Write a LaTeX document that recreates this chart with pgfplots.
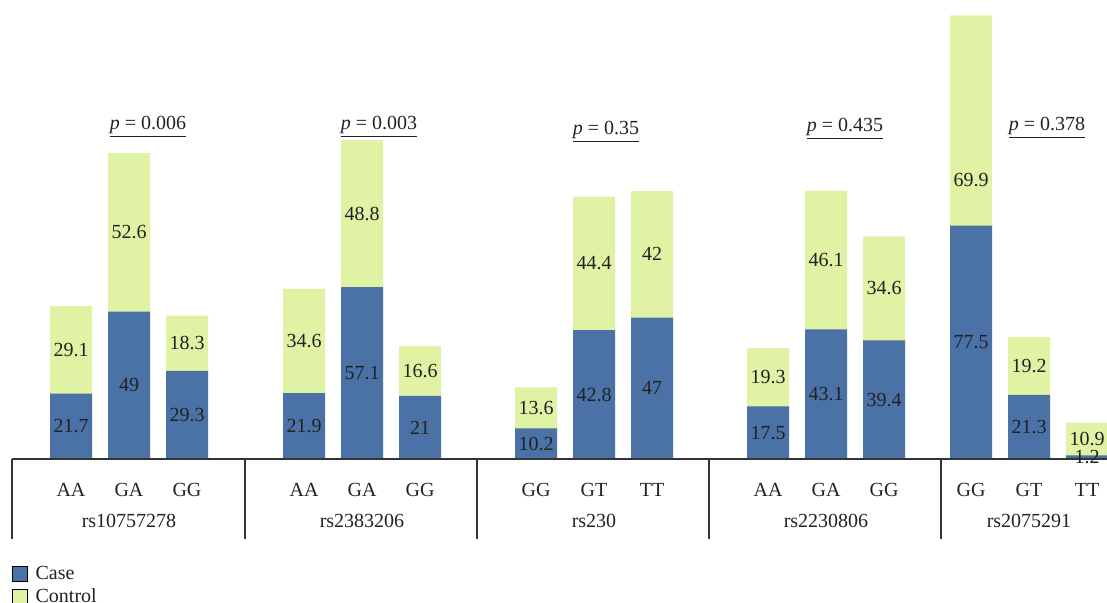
\documentclass[border=0pt]{standalone}
\usepackage{pgfplots}
\pgfplotsset{compat=1.18}
\usepackage{pgfplotstable}
\usepackage{fontspec}
\setmainfont{Liberation Serif}
\definecolor{casec}{HTML}{4A72A6}
\definecolor{ctrlc}{HTML}{E0F2A4}
\definecolor{txt}{HTML}{222222}
\definecolor{ln}{HTML}{333333}
% x: bar centre; cl: where the control value is written
\pgfplotstableread{
x case control cl
71 21.7 29.1 36.25
129 49 52.6 75.3
187 29.3 18.3 38.45
304 21.9 34.6 39.2
362 57.1 48.8 81.5
420 21 16.6 29.3
536 10.2 13.6 17
594 42.8 44.4 65
652 47 42 68
768 17.5 19.3 27.15
826 43.1 46.1 66.15
884 39.4 34.6 56.7
971 77.5 69.9 92.7
1029 21.3 19.2 30.9
1087 1.2 10.9 6.65
}\data
\begin{document}
\begin{tikzpicture}
\begin{axis}[
  scale only axis,
  width=553.5pt, height=301.5pt,
  xmin=0, xmax=1107, ymin=-47.84, ymax=152.5,
  axis y line=none,
  axis x line=middle,
  x axis line style={draw=none},
  major tick length=0pt,
  xtick={71,129,187,304,362,420,536,594,652,768,826,884,971,1029,1087},
  xticklabels={AA,GA,GG,AA,GA,GG,GG,GT,TT,AA,GA,GG,GG,GT,TT},
  xticklabel style={anchor=center, yshift=-15.5pt, font=\fontsize{10}{12}\selectfont, text=txt},
  extra x ticks={129,362,594,826,1029},
  extra x tick labels={rs10757278,rs2383206,rs230,rs2230806,rs2075291},
  extra x tick style={xticklabel style={yshift=-15.5pt}, major tick length=0pt},
  ytick=\empty,
  /pgf/number format/assume math mode=true,
  nodes near coords style={font=\fontsize{10}{12}\selectfont, text=txt, anchor=center},
  legend image code/.code={\fill[#1] (0pt,-3.7pt) rectangle (7.4pt,3.7pt);},
  legend style={at={(axis cs:12,-35.3)}, anchor=north west, draw=none, fill=none,
    inner sep=0pt, outer sep=0pt, row sep=2.5pt, font=\fontsize{10}{12}\selectfont,
    nodes={text=txt, inner xsep=4pt, inner ysep=0pt, text height=7pt, text depth=2pt}},
  legend cell align=left,
]
\addlegendimage{fill=casec}
\addlegendentry{Case}
\addlegendimage{fill=ctrlc}
\addlegendentry{Control}
\addplot[ybar, bar width=42, bar shift=0pt, fill=ctrlc, draw=none, forget plot]
  table[x=x, y expr=\thisrow{case}+\thisrow{control}] {\data};
\addplot[ybar, bar width=42, bar shift=0pt, fill=casec, draw=none, forget plot]
  table[x=x, y=case] {\data};
\addplot[draw=none, nodes near coords, point meta=explicit, forget plot]
  table[x=x, y expr=\thisrow{case}/2, meta=case] {\data};
\addplot[draw=none, nodes near coords, point meta=explicit, forget plot]
  table[x=x, y=cl, meta=control] {\data};
\draw[ln, line width=0.75pt] (axis cs:12,0) -- (axis cs:1107,0);
\draw[ln, line width=0.75pt] (axis cs:12,0) -- (axis cs:12,-26.6);
\draw[ln, line width=0.75pt] (axis cs:245,0) -- (axis cs:245,-26.6);
\draw[ln, line width=0.75pt] (axis cs:477,0) -- (axis cs:477,-26.6);
\draw[ln, line width=0.75pt] (axis cs:709,0) -- (axis cs:709,-26.6);
\draw[ln, line width=0.75pt] (axis cs:941,0) -- (axis cs:941,-26.6);
\node[font=\fontsize{10}{12}\selectfont, text=txt] at (axis cs:148,110.3) {\underline{\textit{p} = 0.006}};
\node[font=\fontsize{10}{12}\selectfont, text=txt] at (axis cs:379,110.3) {\underline{\textit{p} = 0.003}};
\node[font=\fontsize{10}{12}\selectfont, text=txt] at (axis cs:606,108.6) {\underline{\textit{p} = 0.35}};
\node[font=\fontsize{10}{12}\selectfont, text=txt] at (axis cs:845,109.6) {\underline{\textit{p} = 0.435}};
\node[font=\fontsize{10}{12}\selectfont, text=txt] at (axis cs:1047,110.0) {\underline{\textit{p} = 0.378}};
\end{axis}
\pgfresetboundingbox
\useasboundingbox (current axis.south west) rectangle (current axis.north east);
\end{tikzpicture}
\end{document}
